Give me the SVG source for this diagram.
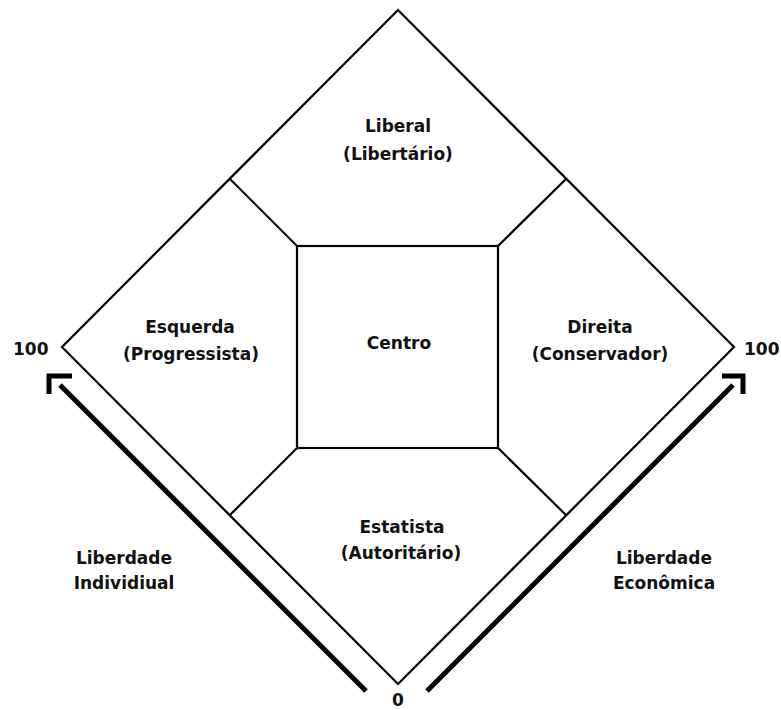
<svg xmlns="http://www.w3.org/2000/svg" width="781" height="710" viewBox="0 0 781 710">
  <style>
    .edge { fill: none; stroke: #000; stroke-width: 2.2; stroke-linejoin: miter; }
    .axis { fill: none; stroke: #000; stroke-width: 5; stroke-linecap: butt; }
    .lbl { font-family: "DejaVu Sans", Verdana, sans-serif; font-weight: bold; font-size: 17px; fill: #111; text-anchor: middle; }
    .num { font-family: "DejaVu Sans", Verdana, sans-serif; font-weight: bold; font-size: 17px; fill: #111; }
  </style>
  <rect width="781" height="710" fill="#fff"/>

  <g id="connectors">
    <!-- outer diamond -->
    <polygon class="edge" points="398,10 734,347 398,684 62,347"/>
    <!-- spokes from square corners to diamond sides -->
    <line class="edge" x1="297" y1="246" x2="230" y2="179"/>
    <line class="edge" x1="498" y1="246" x2="566" y2="179"/>
    <line class="edge" x1="297" y1="448" x2="230" y2="515"/>
    <line class="edge" x1="498" y1="448" x2="566" y2="515"/>
    <!-- axis arrows -->
    <line class="axis" x1="366" y1="691" x2="60" y2="385"/>
    <polyline class="axis" points="49,394 49,376 72,376"/>
    <line class="axis" x1="427" y1="691" x2="733" y2="385"/>
    <polyline class="axis" points="722,376 743,376 743,394"/>
  </g>

  <g id="centro">
    <rect class="edge" x="297" y="246" width="201" height="202"/>
    <text class="lbl" x="399" y="349">Centro</text>
  </g>
  <g id="liberal">
    <text class="lbl" x="398" y="132">Liberal</text>
    <text class="lbl" x="398" y="160">(Libertário)</text>
  </g>
  <g id="esquerda">
    <text class="lbl" x="190" y="333">Esquerda</text>
    <text class="lbl" x="191" y="360">(Progressista)</text>
  </g>
  <g id="direita">
    <text class="lbl" x="600" y="333">Direita</text>
    <text class="lbl" x="600" y="360">(Conservador)</text>
  </g>
  <g id="estatista">
    <text class="lbl" x="402" y="533">Estatista</text>
    <text class="lbl" x="401" y="559">(Autoritário)</text>
  </g>
  <g id="liberdade-individual">
    <text class="lbl" x="124" y="564">Liberdade</text>
    <text class="lbl" x="124" y="589">Individiual</text>
  </g>
  <g id="liberdade-economica">
    <text class="lbl" x="664" y="564">Liberdade</text>
    <text class="lbl" x="664" y="589">Econômica</text>
  </g>
  <g id="scale">
    <text class="num" x="13" y="355">100</text>
    <text class="num" x="744" y="355">100</text>
    <text class="num" x="392" y="706">0</text>
  </g>
</svg>
